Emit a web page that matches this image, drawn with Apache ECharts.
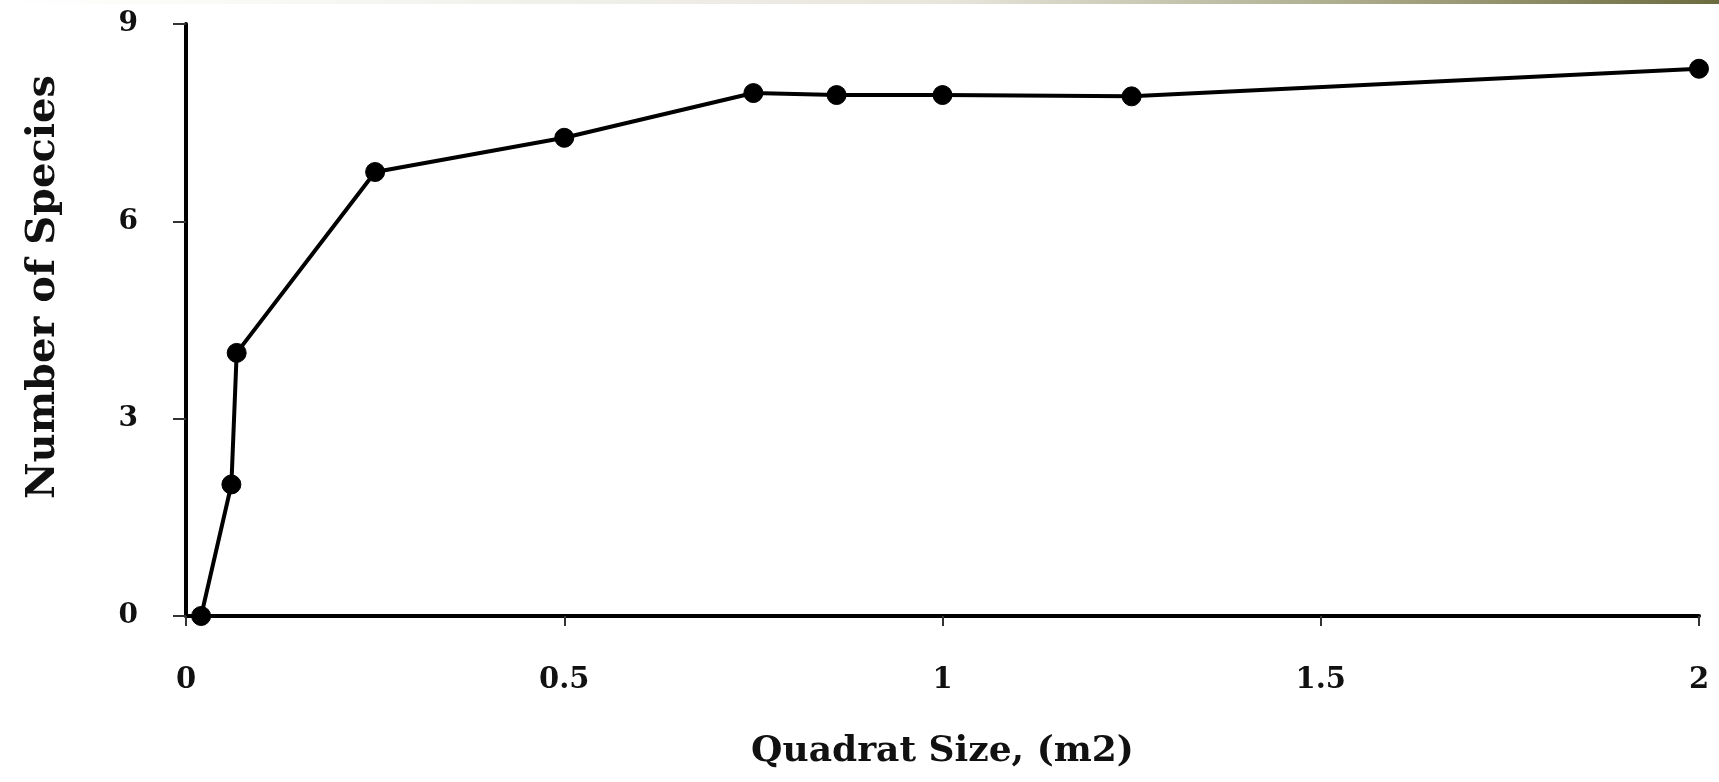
<!DOCTYPE html>
<html>
<head>
<meta charset="utf-8">
<script src="https://cdn.jsdelivr.net/npm/echarts@6/dist/echarts.min.js"></script>
<style>html,body{margin:0;padding:0;background:#fff;}#c{width:1719px;height:782px;}</style>
</head>
<body>
<div id="c"></div>
<script>
const quadratSize = [0.02, 0.06, 0.067, 0.25, 0.5, 0.75, 0.86, 1.0, 1.25, 2.0];
const speciesCount = [0, 2.0, 4.0, 6.75, 7.27, 7.95, 7.92, 7.92, 7.9, 8.32];
const xTicks = [0, 0.5, 1, 1.5, 2];
const yTicks = [0, 3, 6, 9];

const chart = echarts.init(document.getElementById('c'));
const font = '"DejaVu Serif", "Liberation Serif", serif';
chart.setOption({
  animation: false,
  backgroundColor: '#fff',
  graphic: [{
    type: 'rect', left: 0, top: 0, shape: {width: 1719, height: 4},
    style: {fill: new echarts.graphic.LinearGradient(0, 0, 1, 0, [
      {offset: 0, color: '#ffffff'}, {offset: 0.55, color: '#e6e6dc'}, {offset: 0.8, color: '#a8a888'}, {offset: 1, color: '#6b6b3e'}
    ])}
  }],
  grid: {left: 186, right: 20, top: 24, bottom: 166},
  xAxis: {
    type: 'value', min: xTicks[0], max: xTicks[xTicks.length - 1], interval: 0.5,
    name: 'Quadrat Size, (m2)', nameLocation: 'middle', nameGap: 118,
    nameTextStyle: {fontFamily: font, fontSize: 36, fontWeight: 'bold', color: '#111'},
    axisLine: {lineStyle: {color: '#000', width: 4}},
    axisTick: {show: true, length: 10, lineStyle: {color: '#333', width: 2}},
    axisLabel: {fontFamily: font, fontSize: 29, fontWeight: 'bold', color: '#111', margin: 50,
      formatter: v => xTicks.includes(v) ? String(v) : ''},
    splitLine: {show: false}
  },
  yAxis: {
    type: 'value', min: yTicks[0], max: yTicks[yTicks.length - 1], interval: 3,
    name: 'Number of Species', nameLocation: 'middle', nameGap: 122, nameRotate: 90,
    nameTextStyle: {fontFamily: font, fontSize: 40, fontWeight: 'bold', color: '#111', padding: [0, 0, 0, 66]},
    axisLine: {lineStyle: {color: '#000', width: 4}},
    axisTick: {show: true, length: 13, lineStyle: {color: '#333', width: 2}},
    axisLabel: {fontFamily: font, fontSize: 28, fontWeight: 'bold', color: '#111', margin: 48},
    splitLine: {show: false}
  },
  series: [{
    type: 'line',
    data: quadratSize.map((x, i) => [x, speciesCount[i]]),
    symbol: 'circle', symbolSize: 19,
    lineStyle: {color: '#000', width: 4},
    itemStyle: {color: '#000', borderColor: '#000'}
  }]
});
</script>
</body>
</html>
